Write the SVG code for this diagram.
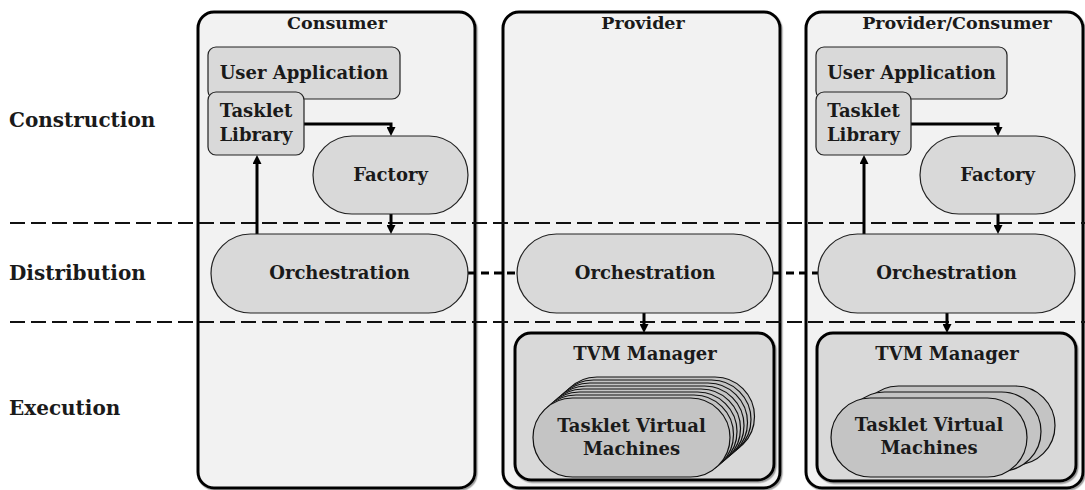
<svg xmlns="http://www.w3.org/2000/svg" width="1085" height="490" viewBox="0 0 1085 490">
  <style>
    text { font-family: "DejaVu Serif", "Liberation Serif", serif; font-weight: bold; fill: #1a1a1a; font-size: 18px; }
    .mid { text-anchor: middle; }
    .title { font-size: 17.5px; }
    .tier { font-size: 20px; }
    .col { fill: #f2f2f2; stroke: #000; stroke-width: 3; }
    .box { fill: #d9d9d9; stroke: #222; stroke-width: 1.2; }
    .mgr { fill: #d9d9d9; stroke: #000; stroke-width: 3; }
    .vm { fill: #c4c4c4; stroke: #111; stroke-width: 1.2; }
    .layer { stroke: #111; stroke-width: 2.2; stroke-dasharray: 15 6; fill: none; }
    .link { stroke: #000; stroke-width: 3; fill: none; }
    .peer { stroke: #000; stroke-width: 3; stroke-dasharray: 8 5; fill: none; }
  </style>
  <defs>
    <marker id="arr" viewBox="0 0 10 10" refX="5.6" refY="5" markerWidth="9" markerHeight="9" orient="auto" markerUnits="userSpaceOnUse">
      <path d="M0,0 L10,5 L0,10 z" fill="#000"/>
    </marker>
    <filter id="sh" x="-5%" y="-5%" width="110%" height="110%">
      <feDropShadow dx="1.2" dy="1.5" stdDeviation="0.7" flood-color="#777" flood-opacity="0.7"/>
    </filter>
  </defs>

  <!-- role columns -->
  <g id="col-consumer">
    <rect class="col" x="198" y="12" width="277" height="476" rx="16" filter="url(#sh)"/>
    <text class="mid title" x="337" y="29">Consumer</text>
  </g>
  <g id="col-provider">
    <rect class="col" x="503" y="12" width="277" height="476" rx="16" filter="url(#sh)"/>
    <text class="mid title" x="643" y="29">Provider</text>
  </g>
  <g id="col-provider-consumer">
    <rect class="col" x="806" y="12" width="277" height="476" rx="16" filter="url(#sh)"/>
    <text class="mid title" x="957" y="29">Provider/Consumer</text>
  </g>

  <!-- layer labels and separators -->
  <g id="layers">
    <text class="tier" x="9" y="127">Construction</text>
    <text class="tier" x="9" y="280">Distribution</text>
    <text class="tier" x="9" y="415">Execution</text>
    <line class="layer" x1="10" y1="223" x2="1085" y2="223"/>
    <line class="layer" x1="10" y1="322" x2="1085" y2="322"/>
  </g>

  <!-- connectors -->
  <g id="connectors">
    <!-- consumer -->
    <path class="link" d="M304,124 H391 V132" marker-end="url(#arr)"/>
    <path class="link" d="M391,214 V230" marker-end="url(#arr)"/>
    <path class="link" d="M257,234 V159" marker-end="url(#arr)"/>
    <!-- provider/consumer -->
    <path class="link" d="M911,124 H998 V132" marker-end="url(#arr)"/>
    <path class="link" d="M998,214 V230" marker-end="url(#arr)"/>
    <path class="link" d="M864,234 V159" marker-end="url(#arr)"/>
    <!-- orchestration to TVM managers -->
    <path class="link" d="M644,313 V329" marker-end="url(#arr)"/>
    <path class="link" d="M947,313 V329" marker-end="url(#arr)"/>
    <!-- peer orchestration links -->
    <line class="peer" x1="468" y1="273" x2="517" y2="273"/>
    <line class="peer" x1="773" y1="273" x2="818" y2="273"/>
  </g>

  <!-- consumer nodes -->
  <g id="c-userapp">
    <rect class="box" x="208" y="47" width="192" height="52" rx="8"/>
    <text class="mid" x="304" y="79">User Application</text>
  </g>
  <g id="c-library">
    <rect class="box" x="208" y="92" width="96" height="63" rx="8"/>
    <text class="mid" x="256" y="117">Tasklet</text>
    <text class="mid" x="256" y="141">Library</text>
  </g>
  <g id="c-factory">
    <rect class="box" x="313" y="136" width="155" height="78" rx="39"/>
    <text class="mid" x="390.5" y="181">Factory</text>
  </g>
  <g id="c-orchestration">
    <rect class="box" x="211" y="234" width="257" height="79" rx="39.5"/>
    <text class="mid" x="339.5" y="279">Orchestration</text>
  </g>

  <!-- provider nodes -->
  <g id="p-orchestration">
    <rect class="box" x="517" y="234" width="256" height="79" rx="39.5"/>
    <text class="mid" x="645" y="279">Orchestration</text>
  </g>
  <g id="p-tvm-manager">
    <rect class="mgr" x="515" y="333" width="259" height="147" rx="16" filter="url(#sh)"/>
    <text class="mid" x="645" y="360">TVM Manager</text>
  </g>
  <g id="p-tvms">
    <rect class="vm" x="557.5" y="377" width="197" height="79" rx="39.5"/>
    <rect class="vm" x="554" y="380" width="197" height="79" rx="39.5"/>
    <rect class="vm" x="550.5" y="383" width="197" height="79" rx="39.5"/>
    <rect class="vm" x="547" y="386" width="197" height="79" rx="39.5"/>
    <rect class="vm" x="543.5" y="389" width="197" height="79" rx="39.5"/>
    <rect class="vm" x="540" y="392" width="197" height="79" rx="39.5"/>
    <rect class="vm" x="536.5" y="395" width="197" height="79" rx="39.5"/>
    <rect class="vm" x="533" y="398" width="197" height="79" rx="39.5"/>
    <text class="mid" x="631.5" y="432">Tasklet Virtual</text>
    <text class="mid" x="631.5" y="455">Machines</text>
  </g>

  <!-- provider/consumer nodes -->
  <g id="pc-userapp">
    <rect class="box" x="816" y="47" width="191" height="52" rx="8"/>
    <text class="mid" x="911.5" y="79">User Application</text>
  </g>
  <g id="pc-library">
    <rect class="box" x="816" y="92" width="95" height="63" rx="8"/>
    <text class="mid" x="863.5" y="117">Tasklet</text>
    <text class="mid" x="863.5" y="141">Library</text>
  </g>
  <g id="pc-factory">
    <rect class="box" x="920" y="136" width="155" height="78" rx="39"/>
    <text class="mid" x="997.5" y="181">Factory</text>
  </g>
  <g id="pc-orchestration">
    <rect class="box" x="818" y="234" width="257" height="79" rx="39.5"/>
    <text class="mid" x="946.5" y="279">Orchestration</text>
  </g>
  <g id="pc-tvm-manager">
    <rect class="mgr" x="817" y="333" width="259" height="148" rx="16" filter="url(#sh)"/>
    <text class="mid" x="947" y="360">TVM Manager</text>
  </g>
  <g id="pc-tvms">
    <rect class="vm" x="859" y="386" width="196" height="79" rx="39.5"/>
    <rect class="vm" x="845" y="392" width="196" height="79" rx="39.5"/>
    <rect class="vm" x="831" y="398" width="196" height="79" rx="39.5"/>
    <text class="mid" x="929" y="431">Tasklet Virtual</text>
    <text class="mid" x="929" y="454">Machines</text>
  </g>
</svg>
